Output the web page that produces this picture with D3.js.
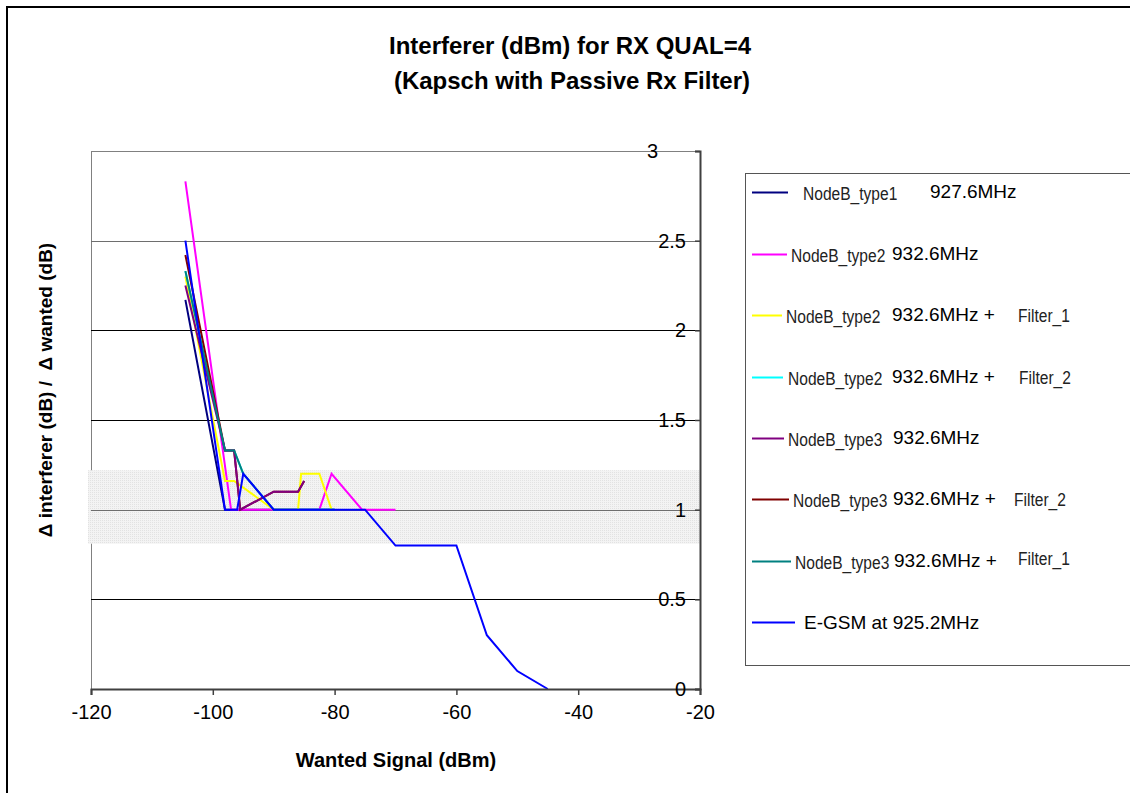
<!DOCTYPE html>
<html>
<head>
<meta charset="utf-8">
<script src="https://cdn.jsdelivr.net/npm/d3@7"></script>
<style>
  html, body { margin: 0; padding: 0; background: #fff; }
  svg { display: block; font-family: "Liberation Sans", Arial, sans-serif; }
</style>
</head>
<body>
<svg id="chart" width="1130" height="793"></svg>
<script>
// ---- data ----
const xTicks = [-120, -100, -80, -60, -40, -20];
const yTicks = [0, 0.5, 1, 1.5, 2, 2.5, 3];

const seriesNames   = ["NodeB_type1", "NodeB_type2", "NodeB_type2", "NodeB_type2", "NodeB_type3", "NodeB_type3", "NodeB_type3", "E-GSM at 925.2MHz"];
const seriesFreqs   = ["927.6MHz", "932.6MHz", "932.6MHz +", "932.6MHz +", "932.6MHz", "932.6MHz +", "932.6MHz +", ""];
const seriesFilters = ["", "", "Filter_1", "Filter_2", "", "Filter_2", "Filter_1", ""];
const seriesColors  = ["#000080", "#FF00FF", "#FFFF00", "#00FFFF", "#800080", "#800000", "#008080", "#0000FF"];

// wanted signal (dBm) / ratio pairs
const type1 = [[-104.5, 2.17], [-98, 1], [-90, 1], [-80, 1]];
const type2 = [[-104.5, 2.83], [-97, 1], [-86, 1], [-82.5, 1], [-80.5, 1.2], [-75.5, 1], [-70, 1]];
const type2F1 = [[-104.5, 2.3], [-98, 1.16], [-96.5, 1.16], [-90, 1], [-86, 1], [-85.5, 1.2], [-82.5, 1.2], [-80.5, 1]];
const type2F2 = [[-104.5, 2.33], [-98, 1.33], [-96.5, 1.33], [-95, 1.2], [-90, 1], [-80, 1]];
const type3 = [[-104.5, 2.25], [-98, 1.33], [-96.5, 1.33], [-95.5, 1], [-90, 1.1], [-86, 1.1], [-85, 1.16]];
const type3F2 = [[-104.5, 2.42], [-98, 1.33], [-96.5, 1.33], [-95.5, 1], [-90, 1.1], [-86, 1.1], [-85, 1.16]];
const type3F1 = [[-104.5, 2.33], [-98, 1.33], [-96.5, 1.33], [-95, 1.2], [-90, 1], [-80, 1]];
const egsm = [[-104.5, 2.5], [-98, 1], [-96, 1], [-95, 1.2], [-90, 1], [-75, 1], [-70, 0.8], [-60, 0.8], [-55, 0.3], [-50, 0.1], [-45, 0]];

const seriesValues = [type1, type2, type2F1, type2F2, type3, type3F2, type3F1, egsm];
const drawOrder = [0, 1, 2, 3, 5, 4, 6, 7];
const bandRange = [0.81, 1.22];

// ---- layout ----
const svg = d3.select("#chart");
const plot = { left: 91, right: 700, top: 151, bottom: 689 };
const x = d3.scaleLinear().domain([-120, -20]).range([plot.left, plot.right]);
const y = d3.scaleLinear().domain([0, 3]).range([plot.bottom, plot.top]);

// outer frame
svg.append("rect").attr("x", 7).attr("y", 7).attr("width", 1140).attr("height", 800)
  .attr("fill", "none").attr("stroke", "#000").attr("stroke-width", 2);

// dotted texture for the shaded band
const defs = svg.append("defs");
const pat = defs.append("pattern").attr("id", "dots").attr("width", 2).attr("height", 2)
  .attr("patternUnits", "userSpaceOnUse");
pat.append("rect").attr("width", 2).attr("height", 2).attr("fill", "#f3f3f3");
pat.append("rect").attr("width", 1).attr("height", 1).attr("fill", "#e2e2e2");

// plot frame (top + left)
svg.append("path")
  .attr("d", `M${plot.left},${plot.bottom}V${plot.top}H${plot.right}`)
  .attr("fill", "none").attr("stroke", "#808080").attr("stroke-width", 1)
  .attr("shape-rendering", "crispEdges");

// shaded band
svg.append("rect")
  .attr("x", plot.left - 3).attr("width", plot.right - plot.left + 3)
  .attr("y", y(bandRange[1])).attr("height", y(bandRange[0]) - y(bandRange[1]))
  .attr("fill", "url(#dots)");

// gridlines
svg.append("g").selectAll("line").data(yTicks.filter(d => d > 0 && d < 3)).join("line")
  .attr("x1", plot.left).attr("x2", plot.right)
  .attr("y1", d => Math.round(y(d)) + 0.5).attr("y2", d => Math.round(y(d)) + 0.5)
  .attr("stroke", d => (d === 1 || d === 2.5) ? "#6e6e6e" : "#000").attr("stroke-width", 1);

// series lines
const line = d3.line().x(d => x(d[0])).y(d => y(d[1]));
svg.append("g").selectAll("path").data(drawOrder).join("path")
  .attr("d", i => line(seriesValues[i]))
  .attr("fill", "none")
  .attr("stroke", i => seriesColors[i])
  .attr("stroke-width", 2)
  .attr("stroke-linejoin", "miter");

// x axis
const xAxis = d3.axisBottom(x).tickValues(xTicks).tickSize(6).tickFormat(d => d);
const gx = svg.append("g").attr("transform", `translate(0,${plot.bottom})`).call(xAxis);
gx.select(".domain").attr("stroke", "#404040").attr("stroke-width", 2);
gx.selectAll(".tick line").attr("stroke", "#404040").attr("stroke-width", 1.5);
gx.selectAll(".tick text").attr("font-size", 20).attr("fill", "#000").attr("dy", "1.05em")
  .attr("font-family", "Liberation Sans, Arial, sans-serif");

// y axis on the right edge, labels inside
const yAxis = d3.axisLeft(y).tickValues(yTicks).tickSize(5).tickFormat(d => d);
const gy = svg.append("g").attr("transform", `translate(${plot.right},0)`).call(yAxis);
gy.select(".domain").attr("stroke", "#404040").attr("stroke-width", 2);
gy.selectAll(".tick line").attr("stroke", "#404040").attr("stroke-width", 1.5);
gy.selectAll(".tick text").attr("font-size", 20).attr("fill", "#000")
  .attr("x", d => d === 3 ? -42 : -14)
  .attr("font-family", "Liberation Sans, Arial, sans-serif");

// titles
const title = svg.append("text").attr("text-anchor", "middle").attr("font-weight", "bold")
  .attr("font-size", 24).attr("fill", "#000");
title.append("tspan").attr("x", 570).attr("y", 54).text("Interferer (dBm) for RX QUAL=4");
title.append("tspan").attr("x", 572).attr("y", 89).text("(Kapsch with Passive Rx Filter)");

svg.append("text").attr("x", 396).attr("y", 767).attr("text-anchor", "middle")
  .attr("font-weight", "bold").attr("font-size", 20).text("Wanted Signal (dBm)");

svg.append("text").attr("transform", "translate(52,390) rotate(-90)").attr("text-anchor", "middle")
  .attr("font-weight", "bold").attr("font-size", 19).attr("xml:space", "preserve")
  .text("\u0394 interferer (dB) /  \u0394 wanted (dB)");

// legend
const legend = { x: 745, y: 173, w: 390, h: 492 };
svg.append("rect").attr("x", legend.x + 0.5).attr("y", legend.y + 0.5)
  .attr("width", legend.w).attr("height", legend.h)
  .attr("fill", "#fff").attr("stroke", "#555").attr("stroke-width", 1);

const rowY      = [192, 254, 315, 377, 438, 499, 561, 622];
const lineEnd   = [788, 787, 782, 783, 784, 789, 791, 795];
const nameX     = [803, 791, 786, 788, 788, 793, 795, 804];
const freqX     = [930, 892, 892, 892, 893, 893, 894, 0];
const filterX   = [0, 0, 1018, 1019, 0, 1014, 1018, 0];
const filterDy  = [0, 0, 0, 0, 0, 0, -3, 0];

const rows = svg.append("g").selectAll("g").data(seriesNames).join("g");
rows.append("line")
  .attr("x1", 752).attr("x2", (d, i) => lineEnd[i])
  .attr("y1", (d, i) => rowY[i] + 0.5).attr("y2", (d, i) => rowY[i] + 0.5)
  .attr("stroke", (d, i) => seriesColors[i]).attr("stroke-width", 2);

// condensed names; the last entry uses the regular face
rows.append("text")
  .attr("transform", (d, i) => i === 7
    ? `translate(${nameX[i]},${rowY[i] + 7})`
    : `translate(${nameX[i]},${rowY[i] + 8}) scale(0.82,1)`)
  .attr("font-size", 19).attr("fill", (d, i) => i === 7 ? "#000" : "#222")
  .text(d => d);

seriesFreqs.forEach((f, i) => {
  if (!f) return;
  svg.append("text").attr("x", freqX[i]).attr("y", rowY[i] + 6)
    .attr("font-size", 19).attr("fill", "#000").text(f);
});
seriesFilters.forEach((f, i) => {
  if (!f) return;
  svg.append("text").attr("transform", `translate(${filterX[i]},${rowY[i] + 7 + filterDy[i]}) scale(0.82,1)`)
    .attr("font-size", 19).attr("fill", "#222").text(f);
});
</script>
</body>
</html>
